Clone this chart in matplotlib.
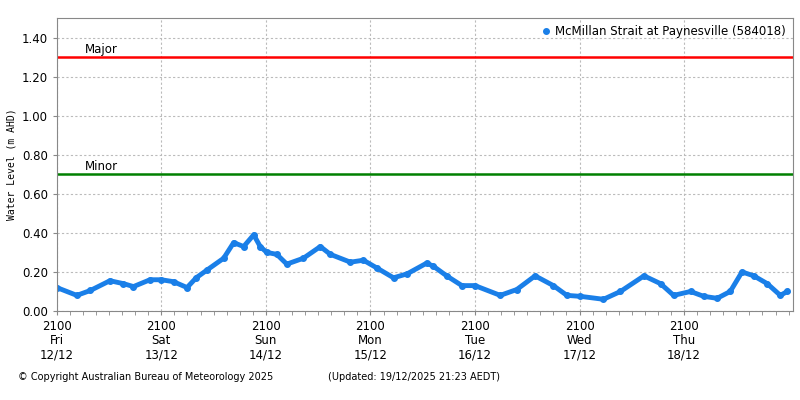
import matplotlib
matplotlib.use("Agg")
import matplotlib.pyplot as plt
from matplotlib.lines import Line2D
from matplotlib.ticker import MultipleLocator

# horas desde 2100 Fri 12/12
horas = [0, 4.6, 7.7, 12.2, 15.3, 17.6, 21.4, 24, 26.8, 29.9, 32, 34.5, 38.3, 40.6, 42.9,
         45.2, 46.7, 48.2, 50.5, 52.8, 56.6, 60.5, 62.8, 67.4, 70.4, 73.5, 77.3, 80.4,
         84.9, 86.4, 89.5, 93, 96, 101.8, 105.6, 109.8, 114, 117.1, 120.2, 125.5, 129.4,
         134.8, 138.6, 141.6, 145.5, 148.5, 151.6, 154.6, 157.3, 160, 163.1, 166.1, 167.7]
nivel = [0.12, 0.08, 0.105, 0.155, 0.14, 0.125, 0.16, 0.16, 0.15, 0.12, 0.17, 0.21, 0.27,
         0.35, 0.33, 0.39, 0.33, 0.30, 0.29, 0.24, 0.27, 0.33, 0.29, 0.25, 0.26, 0.22, 0.17,
         0.19, 0.245, 0.23, 0.18, 0.13, 0.13, 0.08, 0.11, 0.18, 0.13, 0.08, 0.075, 0.06,
         0.10, 0.18, 0.14, 0.08, 0.10, 0.075, 0.065, 0.10, 0.20, 0.18, 0.14, 0.08, 0.10]
etiquetas_x = ["2100\nFri\n12/12", "2100\nSat\n13/12", "2100\nSun\n14/12", "2100\nMon\n15/12",
               "2100\nTue\n16/12", "2100\nWed\n17/12", "2100\nThu\n18/12"]
major, minor = 1.30, 0.70
azul = "#1a7fe8"

fig = plt.figure(figsize=(8, 4), dpi=100)
ax = fig.add_axes([0.071, 0.2225, 0.92, 0.7325])
dias = [h / 24 for h in horas]
ax.plot(dias, nivel, color=azul, lw=3.5, marker="o", ms=4)
ax.axhline(major, color="red", lw=1.8)
ax.axhline(minor, color="green", lw=1.8)
ax.text(0.27, major + 0.005, "Major", fontsize=8.5, va="bottom")
ax.text(0.27, minor + 0.005, "Minor", fontsize=8.5, va="bottom")

ax.set_xlim(0, 7.04)
ax.set_ylim(0, 1.5)
ax.set_xticks(range(7))
ax.set_xticklabels(etiquetas_x, fontsize=8.5, linespacing=1.1)
ax.xaxis.set_minor_locator(MultipleLocator(1 / 8))
ax.set_yticks([i * 0.2 for i in range(8)])
ax.set_yticklabels([f"{i * 0.2:.2f}" for i in range(8)], fontsize=8.5)
ax.tick_params(which="both", direction="out", length=3, color="#888888")
ax.grid(True, which="major", ls=(0, (2, 2)), color="#bbbbbb", lw=0.8)
for s in ax.spines.values():
    s.set_color("#888888")
ax.set_ylabel("Water Level (m AHD)", fontsize=7, family="DejaVu Sans Mono")
punto = Line2D([], [], ls="none", marker="o", ms=4, color=azul)
ax.legend([punto], ["McMillan Strait at Paynesville (584018)"], loc="upper right", fontsize=8.5,
          frameon=False, handlelength=0.8, handletextpad=0.4, borderaxespad=0.2)

fig.text(0.023, 0.05, "© Copyright Australian Bureau of Meteorology 2025", fontsize=7)
fig.text(0.41, 0.05, "(Updated: 19/12/2025 21:23 AEDT)", fontsize=7)
fig.savefig("out.png")
